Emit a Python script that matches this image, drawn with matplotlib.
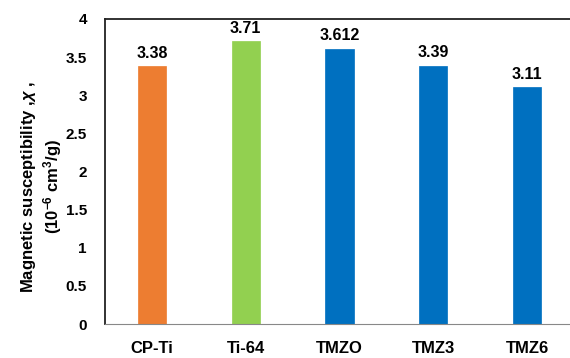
import matplotlib.pyplot as plt

plt.rcParams['font.family'] = ['Liberation Sans', 'DejaVu Sans']
plt.rcParams['mathtext.fontset'] = 'custom'
plt.rcParams['mathtext.it'] = 'Liberation Sans:italic:bold'
plt.rcParams['mathtext.rm'] = 'Liberation Sans:bold'

# data
samples = ["CP-Ti", "Ti-64", "TMZO", "TMZ3", "TMZ6"]
chi = [3.38, 3.71, 3.612, 3.39, 3.11]
labels = ["3.38", "3.71", "3.612", "3.39", "3.11"]
colors = ["#ED7D31", "#92D050", "#0070C0", "#0070C0", "#0070C0"]

fig = plt.figure(figsize=(5.7, 3.58), dpi=100)
ax = fig.add_axes([105/570, 1 - 324/358, (574 - 105)/570, (324 - 19)/358])

x = range(len(samples))
bars = ax.bar(x, chi, width=0.3, color=colors, linewidth=0.5)
for b, c in zip(bars, colors):
    b.set_edgecolor(c)

for xi, v, t in zip(x, chi, labels):
    ax.text(xi, v + 0.07, t, ha="center", va="bottom", fontsize=11.5, fontweight="bold")

ax.set_xlim(-0.5, 4.5)
ax.set_ylim(0, 4)
ax.set_yticks([0, 0.5, 1, 1.5, 2, 2.5, 3, 3.5, 4])
ax.set_yticklabels(["0", "0.5", "1", "1.5", "2", "2.5", "3", "3.5", "4"])
ax.set_xticks(list(x))
ax.set_xticklabels(samples)
ax.tick_params(axis="y", length=0, pad=13, labelsize=11)
ax.tick_params(axis="x", length=0, pad=12, labelsize=12)
for lab in ax.get_xticklabels() + ax.get_yticklabels():
    lab.set_fontweight("bold")

ax.spines["left"].set_linewidth(1.3)
ax.spines["left"].set_color("#222222")
ax.spines["top"].set_linewidth(1.3)
ax.spines["top"].set_color("#222222")
ax.spines["bottom"].set_linewidth(0.8)
ax.spines["bottom"].set_color("#888888")
ax.spines["right"].set_visible(False)

ax.set_ylabel("Magnetic susceptibility ,$\\chi$ ,\n(10$^{-6}$ cm$^{3}$/g)",
              fontsize=12, fontweight="bold", linespacing=1.15)
ax.yaxis.set_label_coords(-0.088, 0.45)

fig.savefig("out.png", dpi=100)
